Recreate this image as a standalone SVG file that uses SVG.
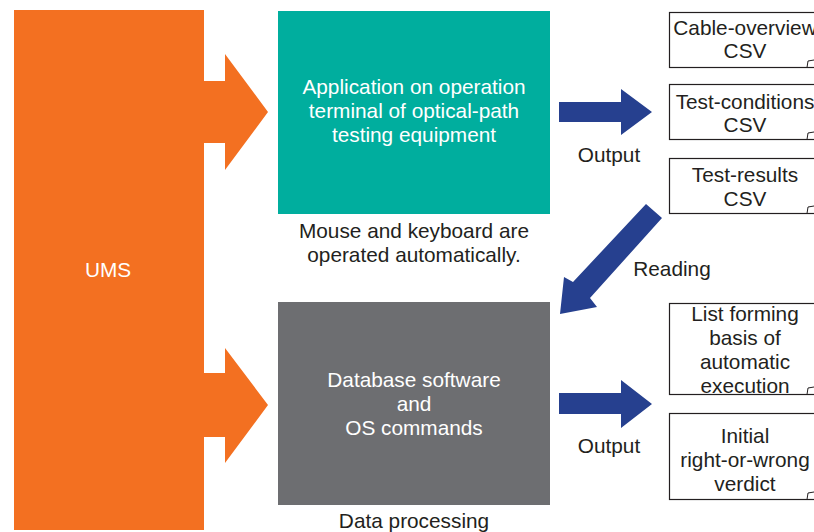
<svg xmlns="http://www.w3.org/2000/svg" width="814" height="532" viewBox="0 0 814 532">
<style>
text{font-family:"Liberation Sans",Arial,sans-serif;font-size:20.8px;fill:#231f20;text-anchor:middle}
.w{fill:#fff}
.doc{fill:#fff;stroke:#231f20;stroke-width:1.2}
.fold{fill:none;stroke:#231f20;stroke-width:1}
.blue{fill:#26408f}
.or{fill:#f37021}
</style>
<g id="ums">
<rect class="or" x="14" y="10" width="190" height="520"/>
<text class="w" x="108" y="277">UMS</text>
</g>
<g id="connectors">
<polygon class="or" points="203,81 225,81 225,54 268,112 225,170 225,143 203,143"/>
<polygon class="or" points="203,373 225,373 225,348 268,405 225,463 225,437 203,437"/>
<polygon class="blue" points="559,102 621,102 621,89 652,112 621,135 621,122 559,122"/>
<polygon class="blue" points="559,393 621,393 621,380 652,404 621,428 621,414 559,414"/>
<polygon class="blue" points="646,204 662,218 590,298 597,307 560,314 564,277 573,282"/>
<text x="609" y="162">Output</text>
<text x="609" y="453">Output</text>
<text x="672" y="276">Reading</text>
</g>
<g id="app">
<rect x="278" y="11" width="272" height="203" fill="#00ae9e"/>
<text class="w" x="414" y="94">Application on operation</text>
<text class="w" x="414" y="118">terminal of optical-path</text>
<text class="w" x="414" y="142">testing equipment</text>
<text x="414" y="238">Mouse and keyboard are</text>
<text x="414" y="262">operated automatically.</text>
</g>
<g id="db">
<rect x="278" y="302" width="272" height="203" fill="#6d6e71"/>
<text class="w" x="414" y="387">Database software</text>
<text class="w" x="414" y="411">and</text>
<text class="w" x="414" y="435">OS commands</text>
<text x="414" y="528">Data processing</text>
</g>
<g id="csv1">
<rect class="doc" x="669.5" y="12.5" width="150" height="55"/>
<path class="fold" d="M807,67.5 L808,61 L814,60"/>
<text x="745" y="35">Cable-overview</text>
<text x="745" y="58">CSV</text>
</g>
<g id="csv2">
<rect class="doc" x="669.5" y="84.5" width="150" height="55"/>
<path class="fold" d="M807,139.5 L808,133 L814,132"/>
<text x="745" y="109">Test-conditions</text>
<text x="745" y="132">CSV</text>
</g>
<g id="csv3">
<rect class="doc" x="669.5" y="158.5" width="150" height="55"/>
<path class="fold" d="M807,213.5 L808,207 L814,206"/>
<text x="745" y="182">Test-results</text>
<text x="745" y="206">CSV</text>
</g>
<g id="list">
<rect class="doc" x="669.5" y="303.5" width="150" height="91"/>
<path class="fold" d="M807,394.5 L808,388 L814,387"/>
<text x="745" y="321">List forming</text>
<text x="745" y="345">basis of</text>
<text x="745" y="369">automatic</text>
<text x="745" y="393">execution</text>
</g>
<g id="verdict">
<rect class="doc" x="669.5" y="413.5" width="150" height="86"/>
<path class="fold" d="M807,499.5 L808,493 L814,492"/>
<text x="745" y="443">Initial</text>
<text x="745" y="467">right-or-wrong</text>
<text x="745" y="491">verdict</text>
</g>
</svg>
